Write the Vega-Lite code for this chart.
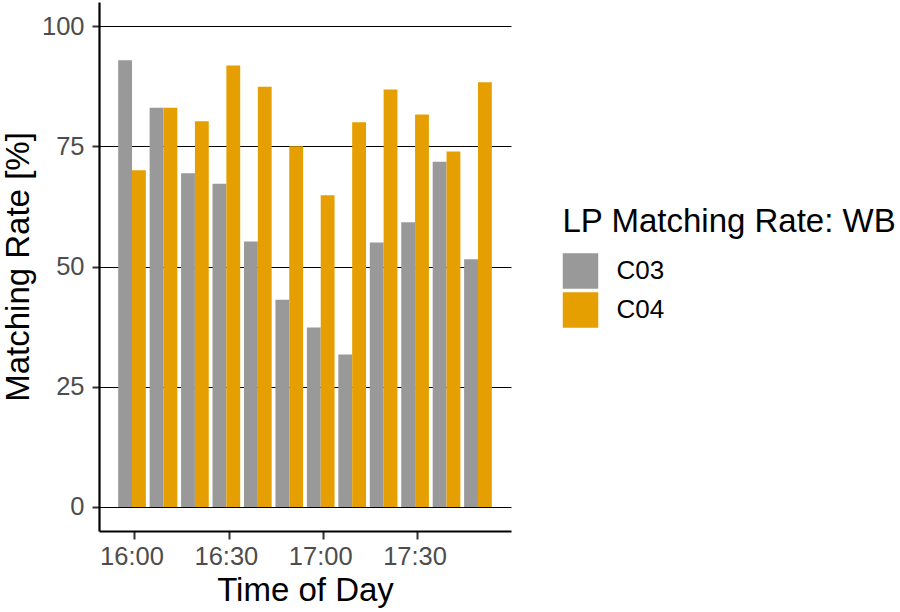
{
  "$schema": "https://vega.github.io/schema/vega-lite/v6.json",
  "autosize": {"type": "none"},
  "padding": {"left": 99, "top": 2, "right": 389, "bottom": 81},
  "width": 412,
  "height": 529,
  "data": {
    "values": [
      {"time": "16:00", "series": "C03", "rate": 92.9},
      {"time": "16:00", "series": "C04", "rate": 70.0},
      {"time": "16:10", "series": "C03", "rate": 83.0},
      {"time": "16:10", "series": "C04", "rate": 83.0},
      {"time": "16:20", "series": "C03", "rate": 69.4},
      {"time": "16:20", "series": "C04", "rate": 80.2},
      {"time": "16:30", "series": "C03", "rate": 67.2},
      {"time": "16:30", "series": "C04", "rate": 91.8},
      {"time": "16:40", "series": "C03", "rate": 55.2},
      {"time": "16:40", "series": "C04", "rate": 87.4},
      {"time": "16:50", "series": "C03", "rate": 43.1},
      {"time": "16:50", "series": "C04", "rate": 75.0},
      {"time": "17:00", "series": "C03", "rate": 37.3},
      {"time": "17:00", "series": "C04", "rate": 64.8},
      {"time": "17:10", "series": "C03", "rate": 31.7},
      {"time": "17:10", "series": "C04", "rate": 80.0},
      {"time": "17:20", "series": "C03", "rate": 55.0},
      {"time": "17:20", "series": "C04", "rate": 86.8},
      {"time": "17:30", "series": "C03", "rate": 59.2},
      {"time": "17:30", "series": "C04", "rate": 81.6},
      {"time": "17:40", "series": "C03", "rate": 71.8},
      {"time": "17:40", "series": "C04", "rate": 73.9},
      {"time": "17:50", "series": "C03", "rate": 51.5},
      {"time": "17:50", "series": "C04", "rate": 88.3}
    ]
  },
  "mark": "bar",
  "encoding": {
    "x": {
      "field": "time",
      "type": "ordinal",
      "title": "Time of Day",
      "scale": {"paddingInner": 0.12, "paddingOuter": 0.61},
      "axis": {
        "values": ["16:00", "16:30", "17:00", "17:30"],
        "labelAngle": 0,
        "bandPosition": 0.6,
        "tickSize": 8,
        "labelPadding": 5,
        "titlePadding": 5,
        "grid": false
      }
    },
    "xOffset": {"field": "series", "type": "nominal"},
    "y": {
      "field": "rate",
      "type": "quantitative",
      "title": "Matching Rate [%]",
      "scale": {"domain": [-5, 105], "nice": false, "zero": false},
      "axis": {
        "values": [0, 25, 50, 75, 100],
        "tickSize": 7,
        "labelPadding": 8,
        "titlePadding": 6,
        "grid": true,
        "gridColor": "black",
        "gridWidth": 1.1
      }
    },
    "color": {
      "field": "series",
      "type": "nominal",
      "title": "LP Matching Rate: WB",
      "scale": {"domain": ["C03", "C04"], "range": ["#999999", "#E69F00"]},
      "legend": {
        "orient": "none",
        "legendX": 463.5,
        "legendY": 203.5,
        "symbolType": "square",
        "symbolSize": 1260,
        "symbolStrokeWidth": 0,
        "rowPadding": 3,
        "labelOffset": 18,
        "titlePadding": 14.5,
        "titleLimit": 400
      }
    }
  },
  "config": {
    "view": {"stroke": null},
    "font": "Liberation Sans",
    "axis": {
      "domainColor": "black",
      "domainWidth": 2.2,
      "tickColor": "#333333",
      "tickWidth": 2,
      "labelFont": "Liberation Sans",
      "labelFontSize": 25.5,
      "labelColor": "#4D4D4D",
      "titleFont": "Liberation Sans",
      "titleFontSize": 33,
      "titleFontWeight": "normal",
      "titleColor": "black"
    },
    "legend": {
      "titleFont": "Liberation Sans",
      "titleFontSize": 33,
      "titleFontWeight": "normal",
      "titleColor": "black",
      "labelFont": "Liberation Sans",
      "labelFontSize": 26,
      "labelColor": "black"
    }
  }
}
